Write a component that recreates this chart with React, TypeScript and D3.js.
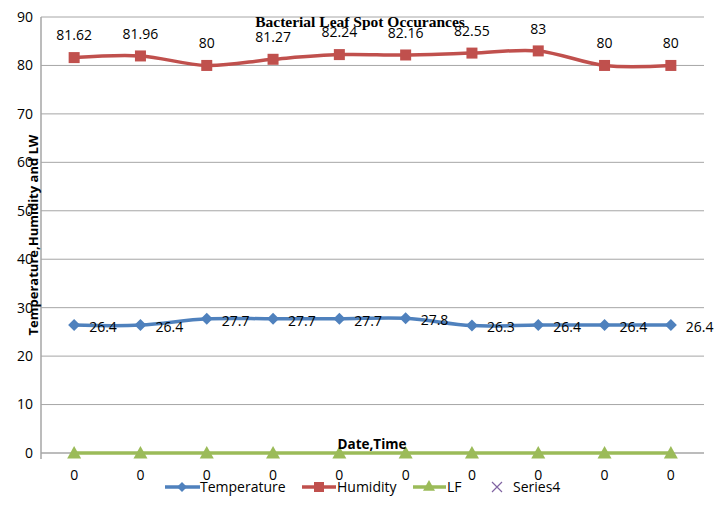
import React from "react";
import * as d3 from "d3";

const categories = ["0", "0", "0", "0", "0", "0", "0", "0", "0", "0"];
const temperature = [26.4, 26.4, 27.7, 27.7, 27.7, 27.8, 26.3, 26.4, 26.4, 26.4];
const humidity = [81.62, 81.96, 80, 81.27, 82.24, 82.16, 82.55, 83, 80, 80];
const lf = [0, 0, 0, 0, 0, 0, 0, 0, 0, 0];
const yTicks = [0, 10, 20, 30, 40, 50, 60, 70, 80, 90];

const W = 721, H = 511;
const left = 41, right = 704, top = 17, bottom = 453;
const FONT = "'Open Sans', 'Noto Sans', sans-serif";
const C_T = "#4F81BD", C_H = "#C0504D", C_L = "#9BBB59", C_S = "#8064A2";

export default function App() {
  const x = d3.scaleBand<number>().domain(categories.map((_, i) => i)).range([left, right]);
  const cx = (i: number) => (x(i) as number) + x.bandwidth() / 2;
  const y = d3.scaleLinear().domain([0, 90]).range([bottom, top]);
  const line = d3.line<number>().x((_, i) => cx(i)).y(d => y(d)).curve(d3.curveCatmullRom.alpha(0.5));

  const diamond = (px: number, py: number, s = 6) => `M${px},${py - s}L${px + s},${py}L${px},${py + s}L${px - s},${py}Z`;
  const tri = (px: number, py: number, s = 7) => `M${px},${py - s}L${px + s},${py + s * 0.8}L${px - s},${py + s * 0.8}Z`;

  return (
    <svg width={W} height={H} style={{ position: "absolute", left: 0, top: 0, background: "#fff" }}>
      {yTicks.map(t => (
        <g key={t}>
          {t > 0 && <line x1={left} x2={right} y1={y(t)} y2={y(t)} stroke="#A6A6A6" strokeWidth={1} />}
          <text x={33} y={y(t)} dy="0.35em" textAnchor="end" fontFamily={FONT} fontSize={14} fill="#000">{t}</text>
        </g>
      ))}
      <line x1={left} x2={left} y1={top} y2={bottom + 6} stroke="#A6A6A6" strokeWidth={1.5} />
      <line x1={left} x2={right} y1={bottom} y2={bottom} stroke="#A6A6A6" strokeWidth={1.5} />

      <text x={360} y={22} dy="0.35em" textAnchor="middle" fontFamily="'Liberation Serif', serif" fontWeight="bold" fontSize={15.5}>Bacterial Leaf Spot Occurances</text>
      <text transform={`translate(33,235) rotate(-90)`} dy="0.35em" textAnchor="middle" fontFamily={FONT} fontWeight="bold" fontSize={13}>Temperature,Humidity and LW</text>

      {/* LF */}
      <path d={line(lf) || ""} fill="none" stroke={C_L} strokeWidth={3.5} />
      {lf.map((v, i) => <path key={i} d={tri(cx(i), y(v))} fill={C_L} />)}

      {/* Temperature */}
      <path d={line(temperature) || ""} fill="none" stroke={C_T} strokeWidth={3.5} />
      {temperature.map((v, i) => (
        <g key={i}>
          <path d={diamond(cx(i), y(v))} fill={C_T} />
          <text x={cx(i) + 15} y={y(v) + 2} dy="0.35em" fontFamily={FONT} fontSize={14}>{v}</text>
        </g>
      ))}

      {/* Humidity */}
      <path d={line(humidity) || ""} fill="none" stroke={C_H} strokeWidth={3.5} />
      {humidity.map((v, i) => (
        <g key={i}>
          <rect x={cx(i) - 5.5} y={y(v) - 5.5} width={11} height={11} fill={C_H} />
          <text x={cx(i)} y={y(v) - 22} dy="0.35em" textAnchor="middle" fontFamily={FONT} fontSize={14}>{v}</text>
        </g>
      ))}

      <text x={372} y={444} dy="0.35em" textAnchor="middle" fontFamily={FONT} fontWeight="bold" fontSize={13.5}>Date,Time</text>

      {categories.map((c, i) => (
        <text key={i} x={cx(i)} y={475} dy="0.35em" textAnchor="middle" fontFamily={FONT} fontSize={14}>{c}</text>
      ))}

      {/* Legend */}
      <g fontFamily={FONT} fontSize={14}>
        <line x1={165} x2={200} y1={487} y2={487} stroke={C_T} strokeWidth={3.5} />
        <path d={diamond(182, 487, 5)} fill={C_T} />
        <text x={200} y={487} dy="0.35em">Temperature</text>
        <line x1={302} x2={336} y1={487} y2={487} stroke={C_H} strokeWidth={3.5} />
        <rect x={314} y={482} width={10} height={10} fill={C_H} />
        <text x={337} y={487} dy="0.35em">Humidity</text>
        <line x1={413} x2={446} y1={487} y2={487} stroke={C_L} strokeWidth={3.5} />
        <path d={tri(429, 486, 6)} fill={C_L} />
        <text x={447} y={487} dy="0.35em">LF</text>
        <path d="M492,482L502,492M502,482L492,492" stroke={C_S} strokeWidth={1.2} />
        <text x={513} y={487} dy="0.35em">Series4</text>
      </g>
    </svg>
  );
}
